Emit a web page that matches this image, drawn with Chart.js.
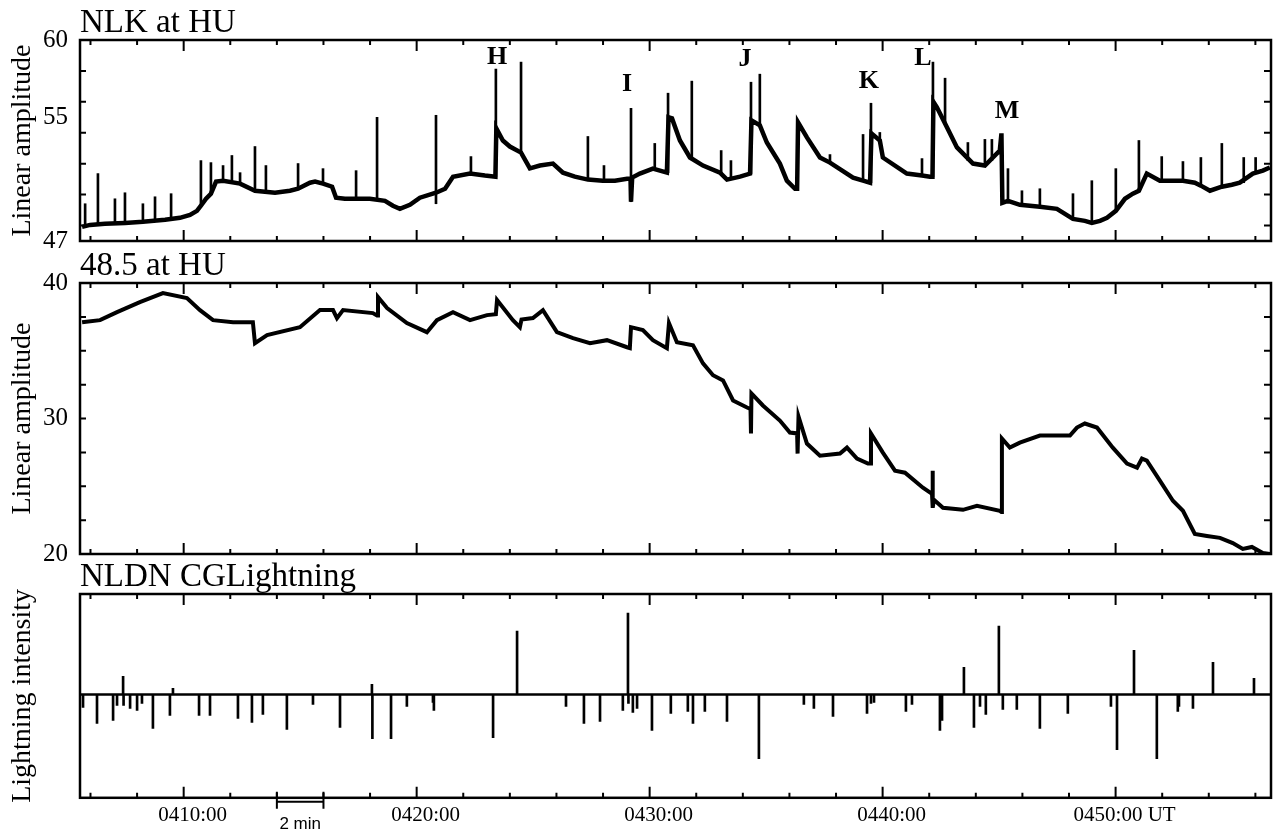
<!DOCTYPE html>
<html><head><meta charset="UTF-8">
<title>NLK / 48.5 at HU and NLDN CG lightning</title>
<script src="https://cdn.jsdelivr.net/npm/chart.js@4"></script>
<style>
  body { margin: 0; background: #ffffff; }
  #wrap { position: relative; width: 1278px; height: 832px; overflow: hidden; }
  #wrap canvas { position: absolute; left: 0; }
</style></head><body>
<div id="wrap">
  <canvas id="nlk" width="1278" height="268" style="top:0px"></canvas>
  <canvas id="f485" width="1278" height="338" style="top:243px"></canvas>
  <canvas id="cg" width="1278" height="279" style="top:554px"></canvas>
</div>
<script>
// time axis: minutes after 0400 UT
const xMin = 5.55, xMax = 56.67;
const minuteTicks = [6, 8, 10, 12, 14, 16, 18, 20, 22, 24, 26, 28, 30, 32, 34, 36, 38, 40, 42, 44, 46, 48, 50, 52, 54, 56];
const labelMinutes = [10, 20, 30, 40, 50];
const labelText = ['0410:00', '0420:00', '0430:00', '0440:00', '0450:00 UT'];
const scaleBarFrom = 14, scaleBarTo = 16;

// NLK at HU - slow trace
const nlkTime = [5.64, 5.98, 6.62, 7.48, 8.25, 9.20, 9.84, 10.27, 10.57, 10.74, 10.96, 11.17, 11.39, 11.69, 12.42, 13.06, 13.92, 14.56, 14.91, 15.42, 15.64, 15.98, 16.37, 16.54, 16.92, 17.99, 18.64, 18.98, 19.28, 19.71, 20.14, 20.83, 21.22, 21.56, 22.29, 22.93, 23.38, 23.42, 23.70, 24.00, 24.48, 24.86, 25.29, 25.85, 26.28, 26.79, 27.35, 27.99, 28.51, 29.03, 29.18, 29.20, 29.25, 29.58, 30.14, 30.74, 30.81, 30.96, 31.30, 31.73, 32.29, 33.02, 33.32, 33.88, 34.31, 34.37, 34.73, 35.03, 35.59, 35.89, 36.24, 36.33, 36.37, 36.75, 37.31, 37.74, 38.73, 39.16, 39.46, 39.52, 39.88, 40.01, 41.04, 41.69, 42.03, 42.14, 42.18, 42.33, 42.76, 43.19, 43.88, 44.39, 45.03, 45.10, 45.14, 45.38, 45.89, 46.75, 47.48, 48.17, 48.68, 48.98, 49.33, 49.63, 50.01, 50.40, 50.74, 51.00, 51.34, 51.90, 52.54, 52.89, 53.40, 53.66, 54.05, 54.56, 54.99, 55.33, 55.89, 56.32, 56.62];
const nlkAmp = [47.91, 48.04, 48.11, 48.17, 48.24, 48.37, 48.50, 48.69, 48.95, 49.28, 49.73, 50.06, 50.84, 50.90, 50.71, 50.25, 50.12, 50.25, 50.38, 50.77, 50.84, 50.71, 50.51, 49.80, 49.73, 49.73, 49.60, 49.28, 49.08, 49.34, 49.80, 50.12, 50.38, 51.16, 51.36, 51.23, 51.16, 54.28, 53.50, 53.11, 52.72, 51.70, 51.88, 52.01, 51.42, 51.16, 50.97, 50.90, 50.90, 51.03, 51.03, 49.54, 51.10, 51.36, 51.68, 51.42, 55.00, 54.93, 53.50, 52.40, 51.88, 51.42, 50.97, 51.16, 51.36, 54.80, 54.48, 53.37, 52.01, 50.90, 50.38, 50.38, 54.67, 53.70, 52.40, 52.07, 51.10, 50.90, 50.77, 53.96, 53.50, 52.40, 51.36, 51.23, 51.16, 51.16, 56.00, 55.65, 54.35, 53.05, 52.01, 51.88, 52.85, 53.96, 49.47, 49.60, 49.34, 49.21, 49.08, 48.43, 48.30, 48.17, 48.30, 48.50, 48.95, 49.73, 50.06, 50.25, 51.36, 50.90, 50.90, 50.90, 50.77, 50.58, 50.25, 50.51, 50.64, 50.77, 51.36, 51.55, 51.75];

// NLK at HU - sferic spikes (base and top of each)
const nlkSpikeTime = [5.77, 6.32, 7.05, 7.48, 8.25, 8.77, 9.46, 10.74, 11.17, 11.69, 12.07, 12.42, 13.06, 13.53, 14.91, 15.98, 17.40, 18.30, 20.83, 22.33, 23.40, 24.48, 27.35, 28.04, 29.20, 30.22, 30.79, 31.81, 33.07, 33.49, 34.35, 34.73, 37.74, 39.16, 39.50, 39.88, 41.69, 42.16, 42.68, 43.66, 44.39, 44.69, 45.38, 45.98, 46.75, 48.17, 48.98, 50.01, 51.00, 51.98, 52.89, 53.66, 54.56, 55.50, 56.01];
const nlkSpikeBase = [48.04, 48.04, 48.11, 48.17, 48.24, 48.30, 48.37, 49.28, 50.06, 50.90, 50.84, 50.71, 50.25, 50.20, 50.38, 50.71, 49.73, 49.70, 49.41, 51.36, 51.16, 52.72, 50.97, 50.90, 49.54, 51.68, 51.42, 52.40, 51.42, 51.10, 51.36, 54.48, 52.07, 50.90, 50.77, 53.50, 51.23, 51.16, 54.60, 52.20, 51.88, 52.20, 49.60, 49.34, 49.21, 48.43, 48.17, 48.95, 50.25, 50.90, 50.90, 50.58, 50.51, 50.77, 51.36];
const nlkSpikePeak = [49.41, 51.36, 49.73, 50.12, 49.41, 49.86, 50.06, 52.20, 52.07, 51.88, 52.53, 51.42, 53.11, 51.88, 52.01, 51.68, 51.55, 55.00, 55.13, 52.46, 58.12, 58.57, 53.76, 51.88, 55.58, 53.31, 56.56, 57.34, 52.85, 52.20, 57.27, 57.79, 52.59, 53.89, 55.91, 54.02, 52.33, 58.57, 57.53, 53.37, 53.57, 53.57, 51.68, 50.25, 50.38, 50.06, 50.90, 51.68, 53.50, 52.46, 52.14, 52.40, 53.31, 52.40, 52.40];

// event letters on the NLK panel
const markerName = ['H', 'I', 'J', 'K', 'L', 'M'];
const markerTime = [23.45, 29.03, 34.09, 39.41, 41.73, 45.34];
const markerAmp = [58.90, 57.14, 58.77, 57.34, 58.83, 55.39];

// 48.5 at HU
const f485Time = [5.64, 6.41, 7.14, 8.12, 9.11, 10.14, 10.70, 11.26, 12.12, 12.97, 13.06, 13.58, 14.99, 15.85, 16.41, 16.58, 16.84, 18.12, 18.30, 18.34, 18.73, 19.58, 20.44, 20.87, 21.56, 22.29, 23.02, 23.40, 23.45, 24.13, 24.43, 24.50, 24.99, 25.42, 26.02, 26.71, 27.44, 28.17, 29.03, 29.15, 29.20, 29.71, 30.14, 30.74, 30.83, 31.17, 31.86, 32.29, 32.72, 33.15, 33.58, 34.18, 34.33, 34.35, 34.37, 34.86, 35.59, 36.02, 36.33, 36.35, 36.39, 36.75, 37.31, 38.17, 38.47, 38.90, 39.37, 39.48, 39.50, 40.01, 40.53, 40.96, 41.73, 42.12, 42.14, 42.16, 42.20, 42.59, 43.45, 44.05, 45.03, 45.10, 45.12, 45.46, 45.89, 46.75, 48.04, 48.34, 48.68, 49.20, 49.88, 50.49, 50.92, 51.13, 51.34, 51.90, 52.46, 52.89, 53.40, 53.92, 54.48, 55.03, 55.46, 55.85, 56.32, 56.62];
const f485Amp = [37.11, 37.26, 37.85, 38.59, 39.26, 38.89, 38.00, 37.26, 37.11, 37.11, 35.56, 36.15, 36.74, 38.00, 38.00, 37.41, 38.00, 37.78, 37.60, 38.96, 38.15, 37.04, 36.37, 37.26, 37.85, 37.26, 37.63, 37.70, 38.74, 37.26, 36.74, 37.30, 37.41, 38.00, 36.37, 35.93, 35.56, 35.78, 35.26, 35.20, 36.74, 36.52, 35.78, 35.19, 37.04, 35.63, 35.41, 34.07, 33.19, 32.81, 31.33, 30.81, 30.70, 28.89, 31.85, 30.96, 29.85, 28.96, 28.90, 27.41, 30.15, 28.15, 27.26, 27.41, 27.85, 27.04, 26.67, 26.67, 28.89, 27.48, 26.15, 26.00, 24.89, 24.44, 26.15, 23.41, 24.00, 23.41, 23.26, 23.56, 23.19, 23.10, 28.52, 27.85, 28.22, 28.74, 28.74, 29.33, 29.63, 29.33, 27.85, 26.67, 26.37, 27.04, 26.89, 25.41, 23.93, 23.19, 21.48, 21.33, 21.19, 20.81, 20.37, 20.52, 20.07, 20.00];

// NLDN cloud-to-ground strokes (sign = polarity, arbitrary intensity units)
const cgTime = [5.68, 6.28, 6.97, 7.14, 7.40, 7.42, 7.70, 8.00, 8.21, 8.68, 9.41, 9.54, 10.66, 11.13, 12.33, 12.93, 13.40, 14.43, 15.55, 16.71, 18.08, 18.10, 18.90, 19.58, 20.70, 20.74, 23.28, 24.31, 26.41, 27.18, 27.87, 28.85, 29.07, 29.09, 29.28, 29.46, 30.10, 30.91, 31.64, 31.86, 32.37, 33.32, 34.69, 36.62, 37.05, 37.87, 39.33, 39.50, 39.63, 41.00, 41.26, 42.46, 42.55, 43.49, 43.92, 44.18, 44.43, 44.99, 45.16, 45.76, 46.75, 47.95, 49.80, 50.06, 50.79, 51.77, 52.67, 52.72, 53.32, 54.18, 55.94];
const cgIntensity = [-13, -29, -26, -11, 18, -11, -14, -16, -9, -34, -21, 6, -21, -21, -24, -28, -20, -35, -10, -33, 10, -44, -44, -12, -8, -16, -43, 63, -12, -29, -27, -16, 81, -9, -18, -14, -36, -19, -17, -29, -17, -27, -64, -10, -14, -22, -19, -9, -8, -17, -10, -36, -26, 27, -33, -12, -20, 68, -15, -15, -34, -19, -12, -55, 44, -64, -17, -12, -14, 32, 16];

const SERIF = '"Liberation Serif", "Times New Roman", serif';
const SANS = '"Liberation Sans", Arial, sans-serif';

// frame, inward tick marks, zero line, letters and the 2 min bar
const framePlugin = {
  id: 'frame',
  afterDatasetsDraw(chart, args, opts) {
    const { ctx, chartArea: a, scales: { x, y } } = chart;
    ctx.save();
    ctx.strokeStyle = '#000';
    ctx.lineWidth = 2;
    ctx.beginPath();
    minuteTicks.forEach(m => {
      const px = x.getPixelForValue(m);
      const len = m % 10 === 0 ? 11 : 5;
      ctx.moveTo(px, a.top); ctx.lineTo(px, a.top + len);
      ctx.moveTo(px, a.bottom); ctx.lineTo(px, a.bottom - len);
    });
    (opts.yMarks || []).forEach(v => {
      const py = y.getPixelForValue(v);
      ctx.moveTo(a.left, py); ctx.lineTo(a.left + 6, py);
      ctx.moveTo(a.right, py); ctx.lineTo(a.right - 7, py);
    });
    ctx.stroke();
    ctx.lineWidth = 2.5;
    if (opts.zeroLine) {
      const py = y.getPixelForValue(0);
      ctx.beginPath(); ctx.moveTo(a.left, py); ctx.lineTo(a.right, py); ctx.stroke();
    }
    ctx.strokeRect(a.left, a.top, a.width, a.height);

    if (opts.markers) {
      ctx.fillStyle = '#000';
      ctx.font = 'bold 26px ' + SERIF;
      ctx.textAlign = 'center';
      ctx.textBaseline = 'middle';
      markerName.forEach((n, i) => {
        ctx.fillText(n, x.getPixelForValue(markerTime[i]), y.getPixelForValue(markerAmp[i]));
      });
    }

    if (opts.scaleBar) {
      const x1 = x.getPixelForValue(scaleBarFrom), x2 = x.getPixelForValue(scaleBarTo);
      ctx.lineWidth = 2;
      ctx.beginPath();
      ctx.moveTo(x1, a.bottom - 6); ctx.lineTo(x1, a.bottom + 11);
      ctx.moveTo(x2, a.bottom - 6); ctx.lineTo(x2, a.bottom + 11);
      ctx.moveTo(x1, a.bottom + 4); ctx.lineTo(x2, a.bottom + 4);
      ctx.stroke();
      ctx.fillStyle = '#000';
      ctx.font = '17px ' + SANS;
      ctx.textAlign = 'center';
      ctx.textBaseline = 'alphabetic';
      ctx.fillText('2 min', (x1 + x2) / 2, a.bottom + 31);
    }
    ctx.restore();
  }
};

function titleOpts(text) {
  return {
    display: true, text, align: 'start', fullSize: false, color: '#000',
    font: { family: SERIF, size: 33, weight: 'normal', lineHeight: 1 },
    padding: { top: 7, bottom: 0 }
  };
}

function yAxis(min, max, labels, title, showLabels) {
  return {
    type: 'linear', min, max,
    grid: { display: false, drawTicks: false },
    border: { display: false },
    afterBuildTicks: s => { s.ticks = labels.map(v => ({ value: v })); },
    afterFit: s => { s.width = 80; },
    ticks: { display: showLabels, padding: 12, color: '#000', font: { family: SERIF, size: 25 } },
    title: { display: true, text: title, color: '#000', font: { family: SERIF, size: 28 }, padding: { top: 6, bottom: 0 } }
  };
}

const hiddenX = { type: 'linear', display: false, min: xMin, max: xMax, offset: false };

const common = {
  responsive: false,
  animation: false,
  events: [],
  devicePixelRatio: 1
};

// NLK at HU
new Chart(document.getElementById('nlk'), {
  type: 'line',
  data: {
    datasets: [
      {
        type: 'line',
        data: nlkTime.map((t, i) => ({ x: t, y: nlkAmp[i] })),
        borderColor: '#000', borderWidth: 4.5, pointRadius: 0, tension: 0
      },
      {
        type: 'bar',
        data: nlkSpikeTime.map((t, i) => ({ x: t, y: [nlkSpikeBase[i], nlkSpikePeak[i]] })),
        backgroundColor: '#000', barThickness: 2
      }
    ]
  },
  options: {
    ...common,
    layout: { autoPadding: false, padding: { left: 0, right: 7, top: 0, bottom: 12 } },
    scales: { x: hiddenX, y: yAxis(47, 60, [47, 55, 60], 'Linear amplitude', true) },
    plugins: {
      legend: { display: false }, tooltip: { enabled: false },
      title: titleOpts('NLK at HU'),
      frame: { yMarks: [48, 50, 52, 54, 56, 58], markers: true }
    }
  },
  plugins: [framePlugin]
});

// 48.5 at HU
new Chart(document.getElementById('f485'), {
  type: 'line',
  data: {
    datasets: [{
      data: f485Time.map((t, i) => ({ x: t, y: f485Amp[i] })),
      borderColor: '#000', borderWidth: 4, pointRadius: 0, tension: 0
    }]
  },
  options: {
    ...common,
    layout: { autoPadding: false, padding: { left: 0, right: 7, top: 0, bottom: 12 } },
    scales: { x: hiddenX, y: yAxis(20, 40, [20, 30, 40], 'Linear amplitude', true) },
    plugins: {
      legend: { display: false }, tooltip: { enabled: false },
      title: titleOpts('48.5 at HU'),
      frame: { yMarks: [22.5, 25, 27.5, 30, 32.5, 35, 37.5] }
    }
  },
  plugins: [framePlugin]
});

// NLDN CG lightning
new Chart(document.getElementById('cg'), {
  type: 'bar',
  data: {
    datasets: [{
      data: cgTime.map((t, i) => ({ x: t, y: cgIntensity[i] })),
      backgroundColor: '#000', barThickness: 2
    }]
  },
  options: {
    ...common,
    layout: { autoPadding: false, padding: { left: 0, right: 7, top: 0, bottom: 0 } },
    scales: {
      x: {
        type: 'linear', min: xMin, max: xMax, offset: false,
        grid: { display: false, drawTicks: false },
        border: { display: false },
        afterBuildTicks: s => { s.ticks = labelMinutes.map(v => ({ value: v })); },
        ticks: {
          padding: 5, labelOffset: 9, maxRotation: 0, autoSkip: false, color: '#000',
          font: { family: SERIF, size: 21 },
          callback: v => labelText[labelMinutes.indexOf(v)]
        }
      },
      y: yAxis(-103, 100, [0], 'Lightning intensity', false)
    },
    plugins: {
      legend: { display: false }, tooltip: { enabled: false },
      title: titleOpts('NLDN CGLightning'),
      frame: { zeroLine: true, scaleBar: true }
    }
  },
  plugins: [framePlugin]
});
</script>
</body></html>
